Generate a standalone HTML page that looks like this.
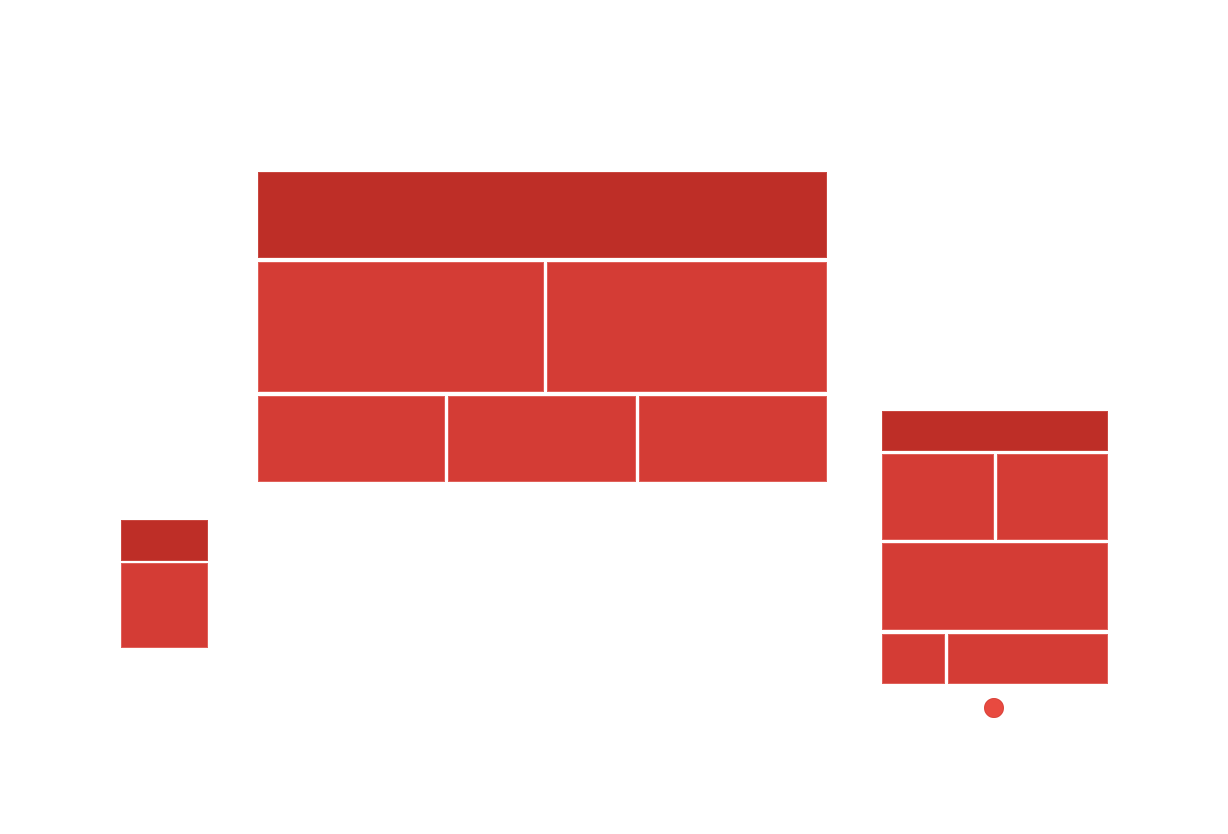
<!DOCTYPE html>
<html><head><meta charset="utf-8"><style>
html,body{margin:0;padding:0;background:#fff;width:1228px;height:834px;overflow:hidden;position:relative}
.b{position:absolute;background:#D43C35;box-sizing:border-box;border:1px solid #E0615A}
.d{background:#BE2E27;border-color:#C94840}
</style></head><body>
<div>
<div class="b d" style="left:258px;top:172px;width:569px;height:86px"></div>
<div class="b" style="left:258px;top:262px;width:286px;height:130px"></div>
<div class="b" style="left:547px;top:262px;width:280px;height:130px"></div>
<div class="b" style="left:258px;top:396px;width:187px;height:86px"></div>
<div class="b" style="left:448px;top:396px;width:188px;height:86px"></div>
<div class="b" style="left:639px;top:396px;width:188px;height:86px"></div>
</div>
<div>
<div class="b d" style="left:121px;top:520px;width:87px;height:41px"></div>
<div class="b" style="left:121px;top:563px;width:87px;height:85px"></div>
</div>
<div>
<div class="b d" style="left:882px;top:411px;width:226px;height:40px"></div>
<div class="b" style="left:882px;top:454px;width:112px;height:86px"></div>
<div class="b" style="left:997px;top:454px;width:111px;height:86px"></div>
<div class="b" style="left:882px;top:543px;width:226px;height:87px"></div>
<div class="b" style="left:882px;top:634px;width:63px;height:50px"></div>
<div class="b" style="left:948px;top:634px;width:160px;height:50px"></div>
<div style="position:absolute;left:984px;top:698px;width:20px;height:20px;border-radius:50%;background:#E84A40;box-sizing:border-box;border:1px solid #D9433A"></div>
</div>
</body></html>
